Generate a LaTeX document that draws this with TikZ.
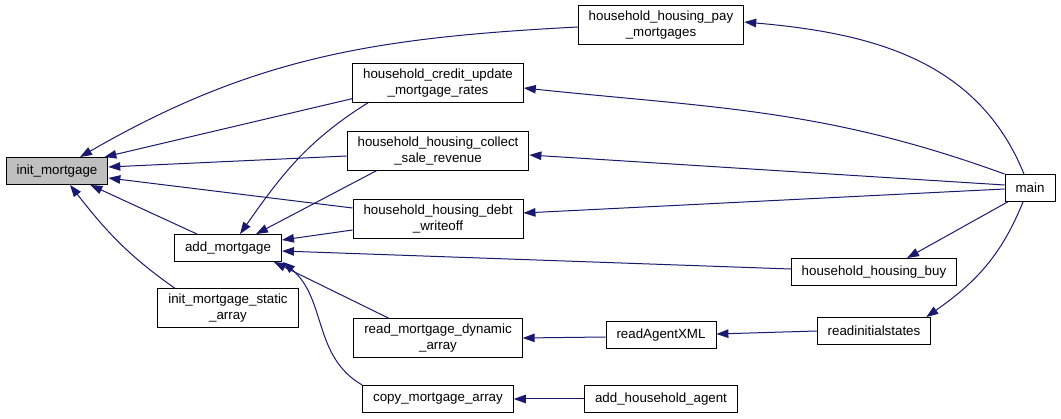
\documentclass[tikz,border=0pt]{standalone}
\usepackage{fontspec}
\setmainfont{Liberation Sans}
\usetikzlibrary{arrows, arrows.meta}
\definecolor{navy}{HTML}{191970}
\definecolor{selgray}{HTML}{BFBFBF}
\tikzset{func/.style = {shape = rectangle, draw, fill = white, line width = 0.9pt, align = center,
  inner xsep = 10.5pt, inner ysep = 5pt, minimum height = 27pt,
  font = \fontsize{13.33}{16}\selectfont}}
\tikzset{edge/.style = {->, > = {Triangle[length = 12pt, width = 8.5pt]}, draw = navy, line width = 1pt}}

\begin{document}
\begin{tikzpicture}[x = 1pt, y = -1pt]
				\useasboundingbox (0, 0) rectangle (1061, 419);

				\node[func, fill = selgray] (initm) at (57, 171) {init\_mortgage};
				\node[func] (addm) at (228, 248) {add\_mortgage};
				\node[func] (stat) at (228, 308) {init\_mortgage\_static\\\_array};
				\node[func] (pay) at (661, 25) {household\_housing\_pay\\\_mortgages};
				\node[func] (cred) at (438, 83) {household\_credit\_update\\\_mortgage\_rates};
				\node[func] (coll) at (438, 151) {household\_housing\_collect\\\_sale\_revenue};
				\node[func] (debt) at (438, 219) {household\_housing\_debt\\\_writeoff};
				\node[func] (rdyn) at (438, 338) {read\_mortgage\_dynamic\\\_array};
				\node[func] (copy) at (438, 399) {copy\_mortgage\_array};
				\node[func] (rxml) at (661, 335) {readAgentXML};
				\node[func] (addh) at (661, 399) {add\_household\_agent};
				\node[func] (main) at (1030, 188) {main};
				\node[func] (buy) at (874, 272) {household\_housing\_buy};
				\node[func] (rinit) at (874, 331) {readinitialstates};

				% callers of init_mortgage
				\draw[edge] ([yshift = -2pt]pay.west) to[out = 183, in = 30] ([xshift = 23pt]initm.north);
				\draw[edge] ([xshift = 0pt, yshift = 4pt]cred.south west) to ([xshift = -4pt]initm.north east);
				\draw[edge] ([yshift = -5pt]coll.west) to ([yshift = 4pt]initm.east);
				\draw[edge] ([yshift = 11pt]debt.west) to ([yshift = -7pt]initm.east);
				\draw[edge] ([xshift = -31pt]addm.north) to ([xshift = -18pt]initm.south east);
				\draw[edge] ([xshift = -53pt]stat.north) to[out = 145, in = -52] ([xshift = 13pt]initm.south);

				% callers of add_mortgage
				\draw[edge] ([xshift = 16pt]cred.south west) to[out = 212, in = 55] ([xshift = 12pt]addm.north);
				\draw[edge] ([xshift = 30pt]coll.south west) to ([xshift = 28pt]addm.north);
				\draw[edge] ([yshift = -11pt]debt.west) to ([yshift = 8pt]addm.east);
				\draw[edge] ([yshift = 3pt]buy.west) to ([yshift = -3pt]addm.east);
				\draw[edge] ([xshift = -49pt]rdyn.north) to ([xshift = -8pt]addm.south east);
				\draw[edge] (copy.north west) to[out = 150, in = -40] ([xshift = 1pt]addm.south east);

				% main
				\draw[edge] ([xshift = -6pt]main.north) to[out = 112, in = -5] ([yshift = 3pt]pay.east);
				\draw[edge] (main.north west) to[out = 160, in = -6] ([yshift = -5pt]cred.east);
				\draw[edge] ([yshift = 3pt]main.west) to ([yshift = -4pt]coll.east);
				\draw[edge] ([yshift = -1pt]main.west) to ([yshift = 6pt]debt.east);
				\draw[edge] ([xshift = 3pt]main.south west) to ([xshift = 33pt]buy.north);
				\draw[edge] ([xshift = -7pt]main.south) to[out = -112, in = 35] ([xshift = -5pt]rinit.north east);

				% readers
				\draw[edge] (rinit.west) to ([yshift = 1pt]rxml.east);
				\draw[edge] ([yshift = -2pt]rxml.west) to (rdyn.east);
				\draw[edge] (addh.west) to (copy.east);
			\end{tikzpicture}
\end{document}
